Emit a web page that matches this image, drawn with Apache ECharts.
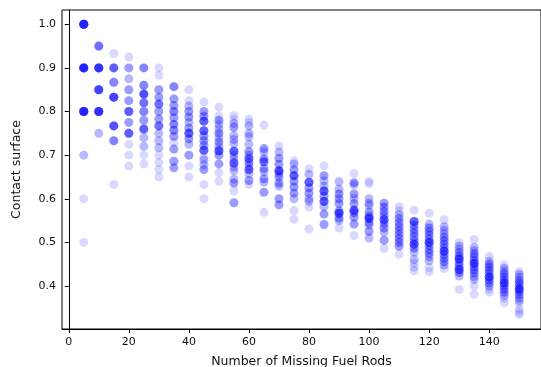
<!DOCTYPE html>
<html>
<head>
<meta charset="utf-8">
<script src="https://cdn.jsdelivr.net/npm/echarts@6/dist/echarts.min.js"></script>
<style>
html,body{margin:0;padding:0;background:#fff;}
#chart{width:541px;height:367px;}
</style>
</head>
<body>
<div id="chart"></div>
<script>
// x values: number of missing fuel rods
const missingRods = [5,10,15,20,25,30,35,40,45,50,55,60,65,70,75,80,85,90,95,100,105,110,115,120,125,130,135,140,145,150];

// contact surface values per column, as [value, number of overlapping samples]
const contactSurface = [
  [[1.0,12],[0.9,12],[0.8,12],[0.7,2],[0.6,1],[0.5,1]],
  [[0.95,5],[0.9,10],[0.85,8],[0.8,10],[0.75,2]],
  [[0.933,1],[0.9,6],[0.867,4],[0.833,8],[0.767,7],[0.733,4],[0.633,1]],
  [[0.925,1],[0.9,3],[0.875,2],[0.85,3],[0.825,3],[0.8,6],[0.775,3],[0.75,6],[0.725,1],[0.7,1],[0.675,1]],
  [[0.90,4],[0.86,4],[0.84,7],[0.82,5],[0.80,4],[0.78,3],[0.76,6],[0.74,2],[0.72,2],[0.70,1],[0.68,1]],
  [[0.9,1],[0.883,1],[0.85,3],[0.833,3],[0.817,5],[0.8,3],[0.783,3],[0.767,5],[0.75,2],[0.733,2],[0.717,2],[0.7,1],[0.683,1],[0.667,1],[0.65,1]],
  [[0.857,4],[0.829,3],[0.814,3],[0.8,4],[0.786,3],[0.771,4],[0.757,4],[0.743,3],[0.729,1],[0.714,3],[0.686,3],[0.671,3]],
  [[0.85,1],[0.825,1],[0.8125,2],[0.8,3],[0.7875,3],[0.775,2],[0.7625,3],[0.75,6],[0.7375,3],[0.725,2],[0.7,3],[0.675,1],[0.65,1]],
  [[0.822,1],[0.8,3],[0.789,3],[0.778,6],[0.756,6],[0.744,3],[0.733,3],[0.722,3],[0.711,6],[0.695,1],[0.689,2],[0.678,2],[0.667,3],[0.633,1],[0.6,1]],
  [[0.81,1],[0.79,1],[0.78,3],[0.77,2],[0.76,2],[0.75,3],[0.74,2],[0.73,3],[0.72,2],[0.71,6],[0.70,3],[0.68,3],[0.66,1],[0.64,1]],
  [[0.791,1],[0.782,1],[0.773,2],[0.764,3],[0.745,2],[0.736,2],[0.727,2],[0.709,6],[0.7,2],[0.691,2],[0.682,5],[0.673,2],[0.664,2],[0.645,2],[0.636,3],[0.618,1],[0.591,3]],
  [[0.783,1],[0.775,1],[0.767,2],[0.75,2],[0.742,2],[0.725,2],[0.708,3],[0.7,2],[0.692,5],[0.683,3],[0.675,2],[0.667,5],[0.658,2],[0.642,3],[0.633,1]],
  [[0.769,1],[0.715,3],[0.708,2],[0.692,3],[0.685,5],[0.669,3],[0.662,2],[0.646,3],[0.638,2],[0.615,3],[0.569,1]],
  [[0.721,1],[0.707,2],[0.693,3],[0.679,3],[0.664,7],[0.657,2],[0.65,3],[0.636,3],[0.629,2],[0.6,3],[0.586,3]],
  [[0.687,1],[0.68,2],[0.667,3],[0.653,6],[0.64,3],[0.627,3],[0.613,3],[0.6,2],[0.573,1],[0.553,1]],
  [[0.669,1],[0.656,2],[0.638,6],[0.625,3],[0.613,3],[0.6,2],[0.594,2],[0.581,1],[0.531,1]],
  [[0.676,1],[0.653,3],[0.641,2],[0.629,2],[0.618,6],[0.606,3],[0.594,6],[0.582,2],[0.565,3],[0.541,3]],
  [[0.639,2],[0.622,2],[0.611,3],[0.6,3],[0.589,3],[0.572,3],[0.567,6],[0.556,3],[0.55,2],[0.533,1]],
  [[0.658,1],[0.637,3],[0.632,2],[0.611,3],[0.6,2],[0.589,3],[0.574,6],[0.568,3],[0.558,3],[0.542,3],[0.516,1]],
  [[0.64,1],[0.635,1],[0.6,2],[0.59,2],[0.585,2],[0.57,3],[0.56,3],[0.555,6],[0.545,3],[0.54,2],[0.525,3],[0.51,2]],
  [[0.59,3],[0.581,3],[0.571,3],[0.562,3],[0.552,6],[0.543,3],[0.533,3],[0.524,2],[0.505,3],[0.486,1]],
  [[0.582,1],[0.573,1],[0.564,2],[0.555,3],[0.545,3],[0.536,3],[0.527,3],[0.518,3],[0.509,3],[0.5,3],[0.491,3],[0.473,1]],
  [[0.574,1],[0.548,6],[0.539,3],[0.53,3],[0.522,3],[0.513,3],[0.504,3],[0.496,6],[0.487,3],[0.478,2],[0.461,2],[0.452,1],[0.443,1],[0.435,1]],
  [[0.567,1],[0.542,2],[0.533,3],[0.525,3],[0.517,3],[0.508,3],[0.5,6],[0.492,3],[0.483,3],[0.475,3],[0.467,2],[0.458,2],[0.442,1],[0.433,1]],
  [[0.552,1],[0.536,2],[0.528,2],[0.52,2],[0.512,3],[0.504,3],[0.496,3],[0.488,3],[0.48,6],[0.472,3],[0.464,3],[0.456,3],[0.448,2],[0.44,1]],
  [[0.5,1],[0.492,2],[0.485,2],[0.477,3],[0.469,3],[0.462,6],[0.454,3],[0.446,3],[0.438,6],[0.431,3],[0.423,2],[0.392,1]],
  [[0.507,1],[0.489,2],[0.481,2],[0.474,3],[0.467,3],[0.459,3],[0.452,6],[0.444,3],[0.437,3],[0.43,3],[0.422,2],[0.415,2],[0.4,1],[0.381,1]],
  [[0.468,1],[0.457,2],[0.45,3],[0.443,3],[0.436,3],[0.429,3],[0.421,6],[0.414,3],[0.407,3],[0.4,2],[0.393,1],[0.386,1]],
  [[0.448,1],[0.441,2],[0.434,2],[0.428,3],[0.421,3],[0.414,3],[0.407,6],[0.4,3],[0.393,3],[0.386,3],[0.379,2],[0.372,1],[0.362,1]],
  [[0.433,1],[0.427,2],[0.42,2],[0.413,3],[0.407,3],[0.4,3],[0.393,6],[0.387,3],[0.38,3],[0.373,2],[0.367,2],[0.36,1],[0.347,1],[0.34,1],[0.335,1]]
];

// tick labels
const xTicks = [0, 20, 40, 60, 80, 100, 120, 140];
const yTicks = [0.4, 0.5, 0.6, 0.7, 0.8, 0.9, 1.0];

const xTitle = 'Number of Missing Fuel Rods';
const yTitle = 'Contact surface';

const points = [];
missingRods.forEach((x, i) => {
  contactSurface[i].forEach(([y, n]) => {
    for (let k = 0; k < n; k++) points.push([x, y]);
  });
});

const chart = echarts.init(document.getElementById('chart'), null, {renderer: 'canvas'});
const font = 'DejaVu Sans';
chart.setOption({
  animation: false,
  backgroundColor: '#fff',
  grid: {left: 62, right: 0, top: 10, bottom: 38, show: true, borderColor: '#000', borderWidth: 1,
    backgroundColor: 'transparent', containLabel: false, outerBoundsMode: 'none'},
  xAxis: {
    type: 'value', min: -2.25, max: 157.25,
    name: xTitle, nameLocation: 'middle', nameGap: 26,
    nameTextStyle: {fontFamily: font, fontSize: 12.5, color: '#111'},
    axisLine: {show: true, lineStyle: {color: '#000', width: 1}},
    axisTick: {show: true, length: 4, lineStyle: {color: '#000'}, customValues: xTicks},
    axisLabel: {fontFamily: font, fontSize: 11, color: '#111', margin: 8, customValues: xTicks,
      formatter: v => String(v)},
    splitLine: {show: false}
  },
  yAxis: {
    type: 'value', min: 0.3016, max: 1.0327,
    name: yTitle, nameLocation: 'middle', nameGap: 39,
    nameTextStyle: {fontFamily: font, fontSize: 12.5, color: '#111'},
    axisLine: {show: true, lineStyle: {color: '#000', width: 1}},
    axisTick: {show: true, length: 4, lineStyle: {color: '#000'}, customValues: yTicks},
    axisLabel: {fontFamily: font, fontSize: 11, color: '#111', margin: 6, customValues: yTicks,
      formatter: v => Number(v).toFixed(1)},
    splitLine: {show: false}
  },
  series: [{
    type: 'scatter',
    data: points,
    symbol: 'circle',
    symbolSize: 9,
    large: false,
    progressive: 0,
    itemStyle: {color: '#0000ff', opacity: 0.15},
    emphasis: {disabled: true}
  }]
});
</script>
</body>
</html>
